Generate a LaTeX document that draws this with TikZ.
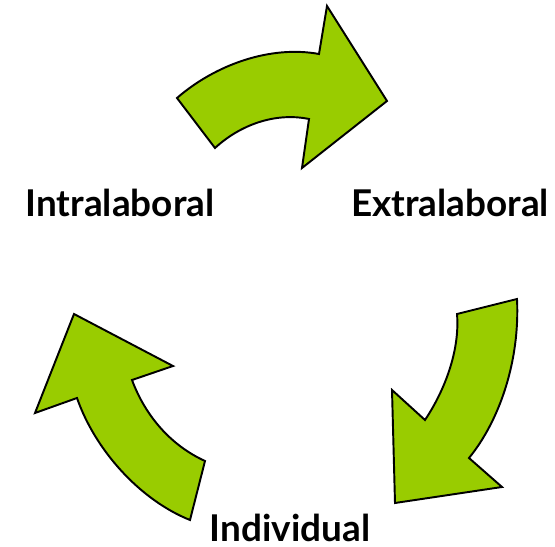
\documentclass[tikz,border=0pt]{standalone}
\usepackage{fontspec}
\setmainfont{Lato}
\definecolor{leafgreen}{HTML}{99CC00}

\tikzset{
    bigarrow/.style={fill=leafgreen, draw=black, line width=1.1pt, line join=miter},
    lbl/.style={font=\fontsize{21}{24}\selectfont\bfseries, anchor=base, inner sep=0pt}
}

\begin{document}
\begin{tikzpicture}[x=0.02cm, y=-0.02cm]
    \useasboundingbox (0,0) rectangle (555,547);
    % top arrow
    \draw[bigarrow] (177,98) .. controls (215,65) and (270,45) .. (319,54)
        -- (327,6) -- (387,101) -- (302,168) -- (309,119)
        .. controls (275,112) and (240,125) .. (215,148) -- cycle;
    % right arrow
    \draw[bigarrow] (517,299) .. controls (520,360) and (500,420) .. (469,458)
        -- (502,487) -- (395,503) -- (392,390) -- (425,420)
        .. controls (445,390) and (460,350) .. (457,314) -- cycle;
    % left arrow
    \draw[bigarrow] (190,520) .. controls (140,500) and (95,450) .. (77,398)
        -- (35,413) -- (74,314) -- (173,366) -- (132,380)
        .. controls (145,415) and (170,445) .. (205,461) -- cycle;
    % labels
    \node[lbl] (intra) at (120,217) {Intralaboral};
    \node[lbl] (extra) at (450,217) {Extralaboral};
    \node[lbl] (indiv) at (290,541) {Individual};
\end{tikzpicture}
\end{document}
